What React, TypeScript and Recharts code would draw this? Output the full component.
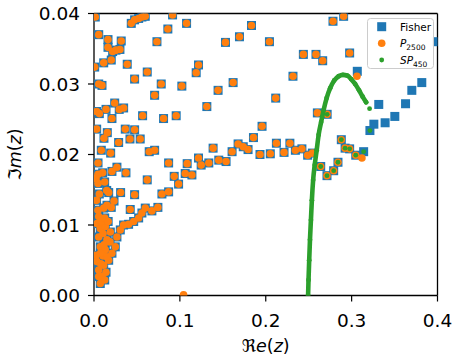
import { ScatterChart, Scatter, XAxis, YAxis, ReferenceLine, Legend, Label } from 'recharts';

type Pt = [number, number];

// zeros (Re z, Im z) found by both the Fisher and the P_2500 computation
const sharedZeros: Pt[] = [
  [0.0015, 0.0395], [0.0434, 0.0386], [0.0473, 0.0391], [0.052, 0.0393], [0.0558, 0.0395],
  [0.0597, 0.0396], [0.0915, 0.0398], [0.086, 0.0378], [0.1078, 0.0386],
  [0.0055, 0.037], [0.0163, 0.0363], [0.0317, 0.0361], [0.0733, 0.036], [0.0163, 0.0352],
  [0.0217, 0.0346], [0.0256, 0.0348], [0.0302, 0.0349], [0.0201, 0.0334], [0.0113, 0.033],
  [0.0387, 0.0328], [0.0008, 0.0324], [0.062, 0.0317], [0.1217, 0.0327], [0.119, 0.0316],
  [0.0473, 0.0307], [0.0055, 0.03], [0.0093, 0.0298], [0.0783, 0.03], [0.1023, 0.0297],
  [0.0706, 0.0284], [0.1314, 0.0268], [0.0241, 0.0273], [0.014, 0.0264], [0.0062, 0.0258],
  [0.0031, 0.0261], [0.0294, 0.0264], [0.0345, 0.0266], [0.0209, 0.0251], [0.0566, 0.0255],
  [0.081, 0.0251], [0.0957, 0.0255], [0.0031, 0.0236], [0.0364, 0.0236], [0.0473, 0.0235],
  [0.0155, 0.0231], [0.0116, 0.0223], [0.0419, 0.0222], [0.0538, 0.0222], [0.0287, 0.0217],
  [0.0085, 0.0206], [0.0194, 0.0202], [0.0643, 0.0204], [0.0706, 0.0206],
  [0.1834, 0.0383], [0.1531, 0.0359], [0.1694, 0.0367], [0.2043, 0.036], [0.2438, 0.0342],
  [0.2585, 0.0342], [0.2663, 0.0333], [0.162, 0.0302], [0.1445, 0.0291], [0.2317, 0.0311],
  [0.2116, 0.028], [0.2601, 0.0259], [0.2715, 0.0257], [0.1957, 0.024], [0.1857, 0.0224],
  [0.1387, 0.0209], [0.1608, 0.0204], [0.1678, 0.0215], [0.1738, 0.0211], [0.1794, 0.0207],
  [0.2124, 0.0216], [0.2281, 0.0216], [0.1933, 0.02], [0.2053, 0.0201], [0.2213, 0.0203],
  [0.2345, 0.0206], [0.2421, 0.0208], [0.2488, 0.0199], [0.2543, 0.0202],
  [0.1337, 0.0188], [0.1453, 0.0192], [0.1538, 0.019], [0.264, 0.0183], [0.2713, 0.017],
  [0.2791, 0.0177], [0.2841, 0.0189], [0.288, 0.0221], [0.2924, 0.0209], [0.2977, 0.0208],
  [0.3048, 0.0199], [0.2783, 0.0389], [0.2907, 0.0396], [0.2977, 0.0344],
  [0.0047, 0.0188], [0.0101, 0.0174], [0.0047, 0.0172], [0.0209, 0.0176], [0.0267, 0.0182],
  [0.0372, 0.0174], [0.0869, 0.0188], [0.1085, 0.0187], [0.1217, 0.0195], [0.1248, 0.0185],
  [0.0934, 0.0169], [0.1062, 0.0173], [0.114, 0.0171], [0.0985, 0.0158], [0.062, 0.0164],
  [0.0023, 0.0166], [0.0047, 0.0159], [0.0124, 0.0161], [0.0148, 0.0149], [0.0062, 0.0144],
  [0.0171, 0.0146], [0.031, 0.0146], [0.0473, 0.0143], [0.0791, 0.0144], [0.0869, 0.0147],
  [0.0233, 0.0134], [0.0201, 0.0125], [0.0151, 0.0128], [0.0113, 0.0124], [0.0047, 0.0121],
  [0.0422, 0.0122], [0.0597, 0.0124], [0.0674, 0.012], [0.0744, 0.0125], [0.0558, 0.0117],
  [0.052, 0.011], [0.0462, 0.0105], [0.0403, 0.0101], [0.0345, 0.01], [0.0306, 0.0093],
  [0.0267, 0.0083], [0.0248, 0.0069], [0.0055, 0.0112], [0.0035, 0.0102], [0.0073, 0.0095],
  [0.0131, 0.0098], [0.019, 0.009], [0.0151, 0.0079], [0.0055, 0.0083], [0.0073, 0.0069],
  [0.0131, 0.0065], [0.0209, 0.006], [0.0171, 0.005], [0.0113, 0.0043], [0.0055, 0.0036],
  [0.0093, 0.0027], [0.0073, 0.0017], [0.0055, 0.0027], [0.003, 0.0135], [0.0023, 0.0057],
  [0.0116, 0.0072], [0.0186, 0.0076], [0.0105, 0.0056], [0.014, 0.0033], [0.0035, 0.0048],
  [0.0085, 0.0105], [0.0105, 0.0088], [0.0125, 0.011], [0.0165, 0.0105], [0.0075, 0.006],
  [0.015, 0.0055], [0.008, 0.0045], [0.0125, 0.0022],
];

const fisherOnly: Pt[] = [
  [0.3066, 0.0318], [0.3997, 0.036], [0.3817, 0.0302], [0.3701, 0.0291], [0.3628, 0.0272],
  [0.3503, 0.0254], [0.339, 0.0245], [0.3316, 0.0271], [0.3259, 0.0243], [0.3213, 0.0234],
  [0.314, 0.0204],
];

const p2500Only: Pt[] = [[0.1043, 0.0001], [0.3062, 0.0311], [0.312, 0.0195]];

// SP_450: densely sampled branch rising from Re z = 0.25
const sp450Branch: Pt[] = [
  [0.2493, 0.0], [0.2498, 0.0022], [0.2506, 0.005], [0.2515, 0.0079], [0.2526, 0.0107],
  [0.2537, 0.0135], [0.2552, 0.0164], [0.257, 0.0185], [0.2593, 0.0206], [0.2616, 0.0228],
  [0.2645, 0.0246], [0.2674, 0.0263], [0.2709, 0.028], [0.275, 0.0294], [0.2797, 0.0305],
  [0.2849, 0.0311], [0.2899, 0.0313], [0.2948, 0.0312], [0.2994, 0.0307], [0.3041, 0.03],
  [0.3087, 0.0291], [0.3128, 0.0282], [0.3169, 0.0274],
];

const sp450Isolated: Pt[] = [
  [0.264, 0.0183], [0.2713, 0.017], [0.2791, 0.0177], [0.2841, 0.0189], [0.288, 0.0221],
  [0.2924, 0.0209], [0.2977, 0.0208], [0.3048, 0.0199], [0.314, 0.0204], [0.3213, 0.0234],
  [0.3209, 0.0265], [0.2715, 0.0257],
];

const xTicks = [0, 0.1, 0.2, 0.3, 0.4];
const yTicks = [0, 0.01, 0.02, 0.03, 0.04];

const BLUE = '#1f77b4';
const ORANGE = '#ff7f0e';
const GREEN = '#2ca02c';
const FONT = 'DejaVu Sans';

const rows = (pts: Pt[]) => pts.map(([re, im]) => ({ re, im }));

const fisherData = rows([...sharedZeros, ...fisherOnly]);
const p2500Data = rows([...sharedZeros, ...p2500Only]);

const SquareMark = (p: any) => (
  <rect x={p.cx - 4.5} y={p.cy - 4.5} width={9} height={9} fill={BLUE} />
);
const CircleMark = (p: any) => <circle cx={p.cx} cy={p.cy} r={3.8} fill={ORANGE} />;
const DotMark = (p: any) => <circle cx={p.cx} cy={p.cy} r={2.4} fill={GREEN} />;

const LegendBox = () => (
  <svg width={68} height={52} style={{ display: 'block' }}>
    <rect x={0.5} y={0.5} width={66} height={50} rx={3} fill="#fff" fillOpacity={0.8} stroke="#cccccc" />
    <rect x={10.2} y={4.2} width={9} height={9} fill={BLUE} />
    <circle cx={14.7} cy={25.3} r={3.8} fill={ORANGE} />
    <circle cx={14.7} cy={42} r={2.4} fill={GREEN} />
    <g fontFamily={FONT} fontSize={10.5} fill="#000">
      <text x={33} y={12.6}>Fisher</text>
      <text x={33} y={29.3}>
        <tspan fontStyle="italic">P</tspan>
        <tspan fontSize={7.5} dy={2.5}>2500</tspan>
      </text>
      <text x={33} y={46}>
        <tspan fontStyle="italic">SP</tspan>
        <tspan fontSize={7.5} dy={2.5}>450</tspan>
      </text>
    </g>
  </svg>
);

const ReLabel = ({ viewBox }: any) => (
  <text x={viewBox.x + viewBox.width / 2} y={352} textAnchor="middle" fontFamily={FONT} fontSize={17.5} fill="#000">
    ℜ<tspan fontStyle="italic">e</tspan>(<tspan fontStyle="italic">z</tspan>)
  </text>
);

const ImLabel = ({ viewBox }: any) => {
  const cy = viewBox.y + viewBox.height / 2;
  return (
    <text
      x={15}
      y={cy}
      transform={`rotate(-90 15 ${cy})`}
      textAnchor="middle"
      dominantBaseline="central"
      fontFamily={FONT}
      fontSize={17.5}
      fill="#000"
    >
      ℑ<tspan fontStyle="italic">m</tspan>(<tspan fontStyle="italic">z</tspan>)
    </text>
  );
};

const tickStyle = { fill: '#000', fontSize: 18.5, fontFamily: FONT };

export default function App() {
  return (
    <div style={{ position: 'absolute', left: 0, top: 0, background: '#fff' }}>
      <ScatterChart width={460} height={363} margin={{ top: 13.5, right: 22.5, bottom: 17.5, left: 34 }}>
        <XAxis
          type="number"
          dataKey="re"
          domain={[0, 0.4]}
          ticks={xTicks}
          allowDataOverflow
          height={50}
          tickFormatter={(v: number) => v.toFixed(1)}
          tick={tickStyle}
          tickSize={6}
          tickMargin={12}
          tickLine={{ stroke: '#000', strokeWidth: 1.2 }}
          axisLine={{ stroke: '#000', strokeWidth: 1.3 }}
        >
          <Label content={ReLabel} />
        </XAxis>
        <YAxis
          type="number"
          dataKey="im"
          domain={[0, 0.04]}
          ticks={yTicks}
          allowDataOverflow
          width={60}
          tickFormatter={(v: number) => v.toFixed(2)}
          tick={tickStyle}
          tickSize={6}
          tickMargin={8}
          tickLine={{ stroke: '#000', strokeWidth: 1.2 }}
          axisLine={{ stroke: '#000', strokeWidth: 1.3 }}
        >
          <Label content={ImLabel} />
        </YAxis>
        <ReferenceLine y={0.04} stroke="#000" strokeWidth={1.3} />
        <ReferenceLine x={0.4} stroke="#000" strokeWidth={1.3} />
        <Scatter name="Fisher" data={fisherData} shape={SquareMark} isAnimationActive={false} />
        <Scatter name="P2500" data={p2500Data} shape={CircleMark} isAnimationActive={false} />
        <Scatter
          name="SP450 branch"
          data={rows(sp450Branch)}
          shape={DotMark}
          line={{ stroke: GREEN, strokeWidth: 4.6, strokeLinecap: 'round', strokeLinejoin: 'round' }}
          lineJointType="monotoneX"
          legendType="none"
          isAnimationActive={false}
        />
        <Scatter name="SP450" data={rows(sp450Isolated)} shape={DotMark} isAnimationActive={false} />
        <Legend
          content={LegendBox}
          layout="vertical"
          align="center"
          verticalAlign="middle"
          wrapperStyle={{ left: 367, top: 18, width: 68, height: 52 }}
        />
      </ScatterChart>
    </div>
  );
}
